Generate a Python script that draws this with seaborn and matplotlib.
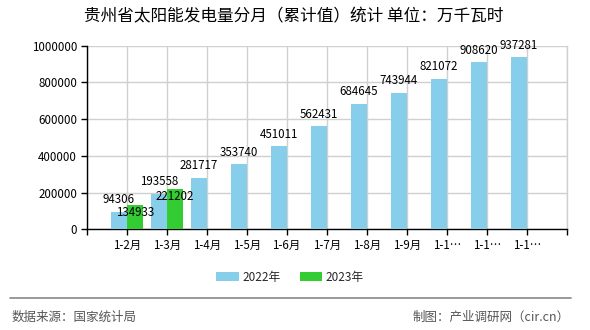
import matplotlib
matplotlib.use("Agg")
import matplotlib.pyplot as plt
import seaborn as sns
import pandas as pd
import numpy as np
from matplotlib.patches import Patch
from matplotlib.lines import Line2D

categories = ["1-2月", "1-3月", "1-4月", "1-5月", "1-6月", "1-7月", "1-8月", "1-9月", "1-1…", "1-1…", "1-1…"]
cat_keys = ["1-2月", "1-3月", "1-4月", "1-5月", "1-6月", "1-7月", "1-8月", "1-9月", "1-10月", "1-11月", "1-12月"]
values_2022 = [94306, 193558, 281717, 353740, 451011, 562431, 684645, 743944, 821072, 908620, 937281]
values_2023 = [134933, 221202]
years = ["2022年", "2023年"]
colors = ["#87CEEB", "#33CC33"]
yticks = [0, 200000, 400000, 600000, 800000, 1000000]

sns.set_theme(style="white")
plt.rcParams['font.family'] = ['Noto Sans CJK SC', 'DejaVu Sans']
plt.rcParams['axes.unicode_minus'] = False

rows = []
for k, v in zip(cat_keys, values_2022):
    rows.append({"cat": k, "val": v, "year": years[0]})
for k, v in zip(cat_keys[:len(values_2023)], values_2023):
    rows.append({"cat": k, "val": v, "year": years[1]})
df = pd.DataFrame(rows)

fig = plt.figure(figsize=(5.9, 3.3), dpi=100)
ax = fig.add_axes([86.7/590, 1-229.3/330, (566.7-86.7)/590, (229.3-45.7)/330])

sns.barplot(data=df, x="cat", y="val", hue="year", order=cat_keys, hue_order=years,
            palette=colors, width=0.8, dodge=True, saturation=1, ax=ax, legend=False,
            errorbar=None, linewidth=0, edgecolor="none", zorder=3)

ax.set_xlim(-1, len(cat_keys))
ax.set_ylim(0, 1000000)
ax.set_yticks(yticks)
ax.set_yticklabels([str(t) for t in yticks], fontsize=8.3, color="#000000")
ax.set_xticks(range(-1, len(cat_keys) + 1))
ax.set_xticklabels([""] + categories + [""], fontsize=8.3, color="#000000")
ax.set_xlabel("")
ax.set_ylabel("")
ax.grid(True, color="#d0d0d0", linewidth=1, zorder=0)
ax.set_axisbelow(True)
ax.spines["top"].set_visible(False)
ax.spines["right"].set_color("#d0d0d0")
ax.spines["right"].set_linewidth(1)
ax.spines["left"].set_color("#000000")
ax.spines["bottom"].set_color("#000000")
ax.spines["left"].set_linewidth(1)
ax.spines["bottom"].set_linewidth(1)
ax.tick_params(axis="both", which="both", direction="out", length=4, width=1, color="#000000", pad=3,
               bottom=True, left=True)

# value labels
for i, v in enumerate(values_2022):
    ax.annotate(str(v), (i - 0.2, v), xytext=(0, 12), textcoords="offset pixels",
                ha="center", va="center", fontsize=8.3, color="#000000", zorder=5)
for i, v in enumerate(values_2023):
    ax.annotate(str(v), (i + 0.2, v), xytext=(0, -8), textcoords="offset pixels",
                ha="center", va="center", fontsize=8.3, color="#000000", zorder=5)

fig.text(294/590, 1-17/330, "贵州省太阳能发电量分月（累计值）统计 单位：万千瓦时", ha="center", va="center",
         fontsize=12, color="#000000")

handles = [Patch(facecolor=c, edgecolor="none", label=y) for c, y in zip(colors, years)]
fig.legend(handles=handles, loc="center", bbox_to_anchor=(290/590, 1-277/330), ncol=2, frameon=False,
           fontsize=8.5, handlelength=1.9, handleheight=0.8, handletextpad=0.3, columnspacing=1.6)

fig.add_artist(Line2D([10/590, 571/590], [1-298/330, 1-298/330], color="#888888", linewidth=1.2,
                      transform=fig.transFigure))
fig.text(12/590, 1-317/330, "数据来源：国家统计局", ha="left", va="center", fontsize=9, color="#555555")
fig.text(570/590, 1-317/330, "制图：产业调研网（cir.cn）", ha="right", va="center", fontsize=9, color="#555555")

fig.savefig("out.png", dpi=100)
